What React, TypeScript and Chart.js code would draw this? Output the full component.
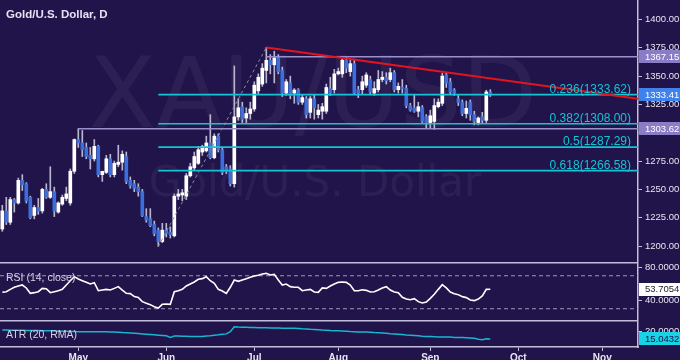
import React, { useEffect, useRef } from 'react';
import { Chart, registerables } from 'chart.js';

Chart.register(...registerables);

// ---------------- data ----------------
const opens = [
  1215, 1231, 1221, 1241, 1238, 1258, 1255, 1243, 1227, 1234,
  1231, 1250, 1243, 1248, 1230, 1237, 1242, 1238, 1266, 1294,
  1291, 1287, 1280, 1277, 1288, 1263, 1265, 1277, 1263, 1272,
  1274, 1279, 1258, 1255, 1252, 1248, 1226, 1224, 1219, 1214,
  1204, 1214, 1212, 1209, 1244, 1245, 1244, 1262, 1269, 1273,
  1283, 1284, 1291, 1278, 1297, 1285, 1270, 1268, 1255, 1314,
  1323, 1313, 1317, 1321, 1337, 1343, 1355, 1364, 1360, 1366,
  1355, 1335, 1344, 1335, 1338, 1327, 1330, 1318, 1330, 1316,
  1319, 1319, 1339, 1338, 1352, 1352, 1364, 1354, 1361, 1338,
  1338, 1342, 1347, 1335, 1338, 1347, 1349, 1347, 1353, 1338,
  1340, 1339, 1324, 1322, 1319, 1322, 1314, 1309, 1310, 1323,
  1326, 1351, 1345, 1337.7, 1330, 1327, 1317, 1327, 1316, 1309,
  1314, 1311, 1336,
];
const highs = [
  1236, 1243, 1243, 1242, 1260, 1263, 1256, 1244, 1236, 1242,
  1251, 1255, 1270, 1252, 1239, 1245, 1252, 1268, 1294.5, 1303.62,
  1302, 1291, 1287, 1294, 1289, 1266, 1280, 1281, 1275, 1289,
  1284, 1283, 1261, 1258, 1255, 1250, 1233, 1233, 1222, 1216,
  1220, 1220, 1217, 1246, 1250, 1250, 1264, 1273, 1283, 1288,
  1289, 1297, 1316, 1299, 1299, 1287, 1272, 1271, 1359, 1330,
  1327, 1322, 1327, 1345, 1352, 1361, 1375.3, 1369, 1372, 1369,
  1358, 1347, 1350, 1339, 1339, 1333, 1332, 1332, 1333, 1325,
  1326, 1343, 1349, 1356, 1357, 1366, 1367.15, 1364, 1365, 1341,
  1350, 1353, 1350, 1345, 1355, 1354, 1353, 1357, 1355, 1344,
  1347, 1342, 1326, 1334, 1327, 1324, 1316, 1320, 1330, 1330,
  1352.5, 1353, 1348, 1339, 1333, 1329, 1328, 1329, 1319, 1314,
  1318, 1337.6, 1338,
];
const lows = [
  1213, 1219, 1219, 1230, 1237, 1249, 1238, 1224, 1224, 1228,
  1229, 1242, 1242, 1226, 1229, 1236, 1240, 1236, 1264, 1287,
  1279, 1277, 1268, 1275, 1261, 1257, 1264, 1261, 1261, 1270,
  1267, 1255, 1251, 1248, 1244, 1226, 1221, 1217, 1209, 1199.7,
  1203, 1208, 1207, 1208, 1241, 1240, 1241, 1261, 1267, 1272,
  1280, 1283, 1277, 1277, 1283, 1263, 1264, 1253, 1252, 1311,
  1309, 1309, 1312, 1319, 1334, 1341, 1344, 1352, 1344, 1352,
  1332, 1333, 1330, 1326, 1325, 1325, 1313, 1313, 1312, 1313,
  1312, 1317, 1333, 1335, 1351, 1349, 1353, 1350, 1334, 1331,
  1334, 1340, 1334, 1333, 1336, 1345, 1343, 1345, 1336, 1335,
  1335, 1322, 1319, 1318, 1314, 1308, 1304, 1304, 1303, 1322,
  1324, 1340, 1334, 1333, 1324, 1315, 1313, 1311, 1307, 1307,
  1308, 1309, 1332,
];
const closes = [
  1231, 1221, 1241, 1238, 1258, 1254, 1240, 1225, 1234, 1231,
  1250, 1243, 1248, 1231, 1238, 1243, 1246, 1266, 1294, 1291,
  1285, 1279, 1277, 1288, 1263, 1266, 1277, 1263, 1273, 1274,
  1281, 1257, 1253, 1251, 1248, 1227, 1223, 1218, 1211, 1204,
  1214, 1211, 1210, 1244, 1246, 1247, 1262, 1270, 1279, 1285,
  1288, 1291, 1278, 1297, 1285, 1265, 1266, 1255, 1314, 1322,
  1312, 1317, 1321, 1342, 1349, 1357, 1364, 1360, 1366, 1354,
  1335, 1345, 1333, 1337.7, 1327, 1331, 1316, 1330, 1322, 1320,
  1323, 1340, 1335, 1352, 1354, 1364, 1357, 1361, 1335, 1335,
  1345, 1351, 1336, 1339, 1347, 1349, 1346, 1353, 1338, 1341,
  1339, 1324, 1320, 1319, 1323, 1310, 1309, 1315, 1324, 1327,
  1350, 1344, 1336, 1335, 1327, 1317, 1321.6, 1316, 1310, 1313,
  1311, 1336, 1333.41,
];
const rsiValues = [
  49.9, 50.7, 53.5, 56, 57.6, 58.8, 55.2, 48.7, 49.5, 50.7,
  54.7, 54.3, 49.5, 50.7, 51.9, 53.5, 58.8, 64, 68.9, 66,
  64, 62, 60, 61.6, 51.9, 52.7, 53.5, 52.7, 54.7, 56.8,
  52.7, 48.7, 48.3, 44.7, 43.8, 38.6, 36.6, 35, 32.5, 30.9,
  35.4, 35.8, 35.4, 50.7, 51.9, 53.5, 57.6, 60, 62.4, 65.7,
  66.5, 68.9, 64, 60.8, 53.5, 51.5, 48.7, 56, 64.8, 63.2,
  64.8, 66.5, 68.1, 69.7, 70.5, 72.1, 72.9, 70.9, 71.7, 64.8,
  58.8, 60, 56.8, 56, 56, 51.9, 52.7, 53.5, 50.3, 49.9,
  55.2, 54.7, 57.6, 60, 62, 62.4, 62, 58.8, 51.9, 51.9,
  53.1, 52.3, 50.3, 50.7, 52.7, 55.2, 56.8, 52.7, 50.3, 49.5,
  43.8, 41.8, 41, 42.2, 38.6, 37, 38.2, 42.6, 47.5, 53.5,
  59.2, 55.2, 50.3, 48.3, 47.1, 44.7, 43.5, 40.6, 39.8, 41.8,
  45.5, 53.5, 53.7054,
];
const atrValues = [
  20.6, 20.6, 20.5, 20.5, 20.4, 20.4, 20.3, 20.3, 20.3,
  20.3, 20.2, 20.2, 20.1, 20.0, 19.9, 19.9, 19.8,
  19.7, 19.7, 19.6, 19.6, 19.6, 19.6, 19.6, 19.6,
  19.6, 19.5, 19.4, 19.3, 19.2, 19.0, 18.9, 18.8, 18.6,
  18.4, 18.2, 18.0, 17.8, 17.6, 17.4, 17.2, 17.0,
  16.0, 16.9,
  16.8, 16.7, 16.7, 16.6, 16.6, 16.5, 16.5,
  16.9, 17.1, 17.4, 17.6, 17.9, 18.2,
  19.6, 22.7,
  22.5, 22.4, 22.3, 22.2, 22.2, 22.1, 22.0, 22.0,
  21.9, 21.8, 21.8, 21.7, 21.7, 21.7, 21.7, 21.6,
  21.4, 21.3, 21.1, 21.0, 20.8, 20.6, 20.5, 20.3, 20.2, 20.1,
  20.0, 19.9, 19.7, 19.6, 19.4, 19.4, 19.3, 19.2,
  19.0, 18.9, 18.8, 18.6, 18.3, 18.2, 18.0, 17.8,
  17.5, 17.4, 17.2, 17.0, 16.7, 16.6, 16.5, 16.4,
  16.3, 16.3, 16.2, 16.2, 16.0, 16.0, 15.9, 15.8, 15.6, 15.4,
  14.8, 14.6, 15.2, 15.0432,
];

const monthTicks = [19, 41, 63, 84, 107, 129, 150];
const monthLabels = ['May', 'Jun', 'Jul', 'Aug', 'Sep', 'Oct', 'Nov'];
const priceTicks = [1200, 1225, 1250, 1275, 1300, 1325, 1350, 1375, 1400];
const rsiTicks = [80, 40];
const rsiBands = [70, 30];
const atrTicks = [20];

const fibRatios = [0.236, 0.382, 0.5, 0.618];
const fibLevels = [1333.62, 1308.0, 1287.29, 1266.58];
const swingLowIdx = 39;
const swingLow = 1199.7;
const swingHighIdx = 66;
const swingHigh = 1375.3;
const trendEndPrice = 1330.0;
const resistanceLevel = 1367.15;
const resistanceStartIdx = 66;
const supportLevel = 1303.62;
const supportStartIdx = 19;
const lastPrice = 1333.41;
const lastRsi = 53.7054;
const lastAtr = 15.0432;

const TITLE = 'Gold/U.S. Dollar, D';
const WM_SYMBOL = 'XAU/USD';
const WM_NAME = 'Gold/U.S. Dollar';
const RSI_LABEL = 'RSI (14, close)';
const ATR_LABEL = 'ATR (20, RMA)';

// ---------------- style ----------------
const BG = '#21144a';
const AXIS = '#c2bedb';
const TICK_TXT = '#e6e6f2';
const UP = '#ffffff';
const DOWN = '#3b6fdc';
const WICK = '#b9b6cf';
const CYAN = '#14c4d4';
const LAV_LINE = '#9a90cc';
const LAV_BOX = '#8b7cc6';
const FONT = '"Liberation Sans", Arial, sans-serif';

const X_MIN = -0.575;
const X_MAX = 158.925;

Chart.defaults.font.family = FONT;

const idx = closes.map((_, i) => i);

const bgPlugin = {
  id: 'bgfill',
  beforeDraw(chart: any) {
    const ctx = chart.ctx;
    ctx.save();
    ctx.fillStyle = BG;
    ctx.fillRect(0, 0, chart.width, chart.height);
    ctx.restore();
  },
};

function drawBox(chart: any, scaleId: string, value: number, text: string, fill: string, color: string) {
  const ctx = chart.ctx;
  const y = chart.scales[scaleId].getPixelForValue(value);
  const x0 = chart.chartArea.right + 1;
  ctx.save();
  ctx.fillStyle = fill;
  ctx.fillRect(x0, Math.round(y - 6.5), chart.width - x0, 13);
  ctx.fillStyle = color;
  ctx.font = '9.5px ' + FONT;
  ctx.textAlign = 'left';
  ctx.textBaseline = 'middle';
  ctx.fillText(text, x0 + 6, Math.round(y) + 0.5);
  ctx.restore();
}

function yAxis(min: number, max: number, ticks: number[], digits: number) {
  return {
    type: 'linear',
    position: 'right',
    min,
    max,
    afterBuildTicks: (s: any) => {
      s.ticks = ticks.map((v) => ({ value: v }));
    },
    afterFit: (s: any) => {
      s.width = 42;
      s.paddingTop = 0;
      s.paddingBottom = 0;
    },
    ticks: {
      color: TICK_TXT,
      padding: 3,
      font: { size: 9.5, family: FONT },
      callback: (v: any) => Number(v).toFixed(digits),
    },
    grid: { drawOnChartArea: false, drawTicks: true, tickLength: 4, color: AXIS },
    border: { display: true, color: AXIS, width: 1.5 },
  };
}

const hiddenX = {
  type: 'linear',
  min: X_MIN,
  max: X_MAX,
  offset: false,
  display: false,
};

function hLine(level: number, startIdx: number, color: string, width: number, order: number, dash: number[] = []) {
  return {
    type: 'line',
    data: [
      { x: startIdx, y: level },
      { x: X_MAX, y: level },
    ],
    borderColor: color,
    borderWidth: width,
    borderDash: dash,
    pointRadius: 0,
    fill: false,
    order,
  };
}

function mainConfig(): any {
  const overlay = {
    id: 'mainOverlay',
    beforeDatasetsDraw(chart: any) {
      const { ctx, chartArea } = chart;
      ctx.save();
      ctx.beginPath();
      ctx.rect(chartArea.left, chartArea.top, chartArea.width, chartArea.height);
      ctx.clip();
      ctx.fillStyle = 'rgba(255,255,255,0.05)';
      ctx.textAlign = 'center';
      ctx.textBaseline = 'alphabetic';
      ctx.font = '98px "DejaVu Sans"';
      ctx.fillText(WM_SYMBOL, 313, 127);
      ctx.font = '42px "DejaVu Sans"';
      ctx.fillText(WM_NAME, 315, 196);
      ctx.restore();
    },
    afterDraw(chart: any) {
      const { ctx, scales } = chart;
      ctx.save();
      ctx.fillStyle = '#e4e2f2';
      ctx.font = 'bold 11.5px ' + FONT;
      ctx.textAlign = 'left';
      ctx.textBaseline = 'alphabetic';
      ctx.fillText(TITLE, 6, 18);

      ctx.fillStyle = CYAN;
      ctx.font = '12px ' + FONT;
      ctx.textAlign = 'right';
      fibLevels.forEach((lv, k) => {
        const y = scales.y.getPixelForValue(lv);
        ctx.fillText(fibRatios[k] + '(' + lv.toFixed(2) + ')', 631, y - 2);
      });
      ctx.restore();

      drawBox(chart, 'y', resistanceLevel, resistanceLevel.toFixed(2), LAV_BOX, '#ffffff');
      drawBox(chart, 'y', supportLevel, supportLevel.toFixed(2), LAV_BOX, '#ffffff');
      drawBox(chart, 'y', lastPrice, lastPrice.toFixed(2), '#3f82ec', '#ffffff');
    },
  };

  return {
    type: 'bar',
    data: {
      datasets: [
        {
          type: 'line',
          data: [
            { x: swingHighIdx, y: swingHigh },
            { x: X_MAX, y: trendEndPrice },
          ],
          borderColor: '#e3141e',
          borderWidth: 2,
          pointRadius: 0,
          fill: false,
          order: 0,
        },
        {
          type: 'line',
          data: [
            { x: swingLowIdx, y: swingLow },
            { x: swingHighIdx, y: swingHigh },
          ],
          borderColor: '#8e8aa6',
          borderWidth: 1,
          borderDash: [3, 3],
          pointRadius: 0,
          fill: false,
          order: 1,
        },
        ...fibLevels.map((lv) => hLine(lv, swingLowIdx, CYAN, 1.6, 1)),
        hLine(resistanceLevel, resistanceStartIdx, LAV_LINE, 1.5, 1),
        hLine(supportLevel, supportStartIdx, LAV_LINE, 1.5, 1),
        {
          type: 'bar',
          data: idx.map((i) => ({ x: i, y: [opens[i], closes[i]] })),
          backgroundColor: idx.map((i) => (closes[i] >= opens[i] ? UP : DOWN)),
          borderWidth: 0,
          barThickness: 3,
          minBarLength: 1,
          grouped: false,
          order: 2,
        },
        {
          type: 'bar',
          data: idx.map((i) => ({ x: i, y: [lows[i], highs[i]] })),
          backgroundColor: WICK,
          borderWidth: 0,
          barThickness: 1,
          grouped: false,
          order: 3,
        },
      ],
    },
    options: {
      animation: false,
      responsive: false,
      maintainAspectRatio: false,
      devicePixelRatio: 1,
      events: [],
      layout: { padding: 0 },
      plugins: { legend: { display: false }, tooltip: { enabled: false }, title: { display: false } },
      scales: {
        x: hiddenX,
        y: yAxis(1185.9, 1417.2, priceTicks, 2),
      },
    },
    plugins: [bgPlugin, overlay],
  };
}

function separator(label: string, labelY: number) {
  return {
    id: 'sep' + label,
    afterDraw(chart: any) {
      const { ctx, chartArea } = chart;
      ctx.save();
      ctx.strokeStyle = AXIS;
      ctx.lineWidth = 1.5;
      ctx.beginPath();
      ctx.moveTo(0, 0.75);
      ctx.lineTo(chartArea.right, 0.75);
      ctx.stroke();
      ctx.fillStyle = '#d4d2e4';
      ctx.font = '10.5px ' + FONT;
      ctx.textAlign = 'left';
      ctx.textBaseline = 'middle';
      ctx.fillText(label, 6, labelY);
      ctx.restore();
    },
  };
}

function rsiConfig(): any {
  const boxPlugin = {
    id: 'rsiBox',
    afterDraw(chart: any) {
      drawBox(chart, 'y', lastRsi, lastRsi.toFixed(4), '#ffffff', '#1d1d2c');
    },
  };
  return {
    type: 'line',
    data: {
      datasets: [
        {
          data: idx.map((i) => ({ x: i, y: rsiValues[i] })),
          borderColor: '#ffffff',
          borderWidth: 1.6,
          pointRadius: 0,
          fill: false,
          order: 0,
        },
        ...rsiBands.map((b) => hLine(b, X_MIN, '#9d99b6', 1, 1, [4, 3])),
      ],
    },
    options: {
      animation: false,
      responsive: false,
      maintainAspectRatio: false,
      devicePixelRatio: 1,
      events: [],
      layout: { padding: 0 },
      plugins: { legend: { display: false }, tooltip: { enabled: false } },
      scales: {
        x: hiddenX,
        y: yAxis(16.36, 86.67, rsiTicks, 4),
      },
    },
    plugins: [bgPlugin, separator(RSI_LABEL, 16), boxPlugin],
  };
}

function atrConfig(): any {
  const boxPlugin = {
    id: 'atrBox',
    afterDraw(chart: any) {
      drawBox(chart, 'y', lastAtr, lastAtr.toFixed(4), '#19d2e6', '#151040');
    },
  };
  return {
    type: 'line',
    data: {
      datasets: [
        {
          data: idx.map((i) => ({ x: i, y: atrValues[i] })),
          borderColor: '#17b6cf',
          borderWidth: 1.5,
          pointRadius: 0,
          fill: false,
        },
      ],
    },
    options: {
      animation: false,
      responsive: false,
      maintainAspectRatio: false,
      devicePixelRatio: 1,
      events: [],
      layout: { padding: 0 },
      plugins: { legend: { display: false }, tooltip: { enabled: false } },
      scales: {
        x: {
          type: 'linear',
          min: X_MIN,
          max: X_MAX,
          offset: false,
          position: 'bottom',
          afterBuildTicks: (s: any) => {
            s.ticks = monthTicks.map((v) => ({ value: v }));
          },
          afterFit: (s: any) => {
            s.height = 13;
            s.paddingLeft = 0;
            s.paddingRight = 0;
          },
          ticks: {
            autoSkip: false,
            maxRotation: 0,
            minRotation: 0,
            padding: 1,
            color: TICK_TXT,
            font: { size: 10, weight: 'bold', family: FONT },
            callback: (v: any) => {
              const k = monthTicks.indexOf(Number(v));
              return k >= 0 ? monthLabels[k] : '';
            },
          },
          grid: { drawOnChartArea: false, drawTicks: true, tickLength: 4, color: AXIS },
          border: { display: true, color: AXIS, width: 1.5 },
        },
        y: yAxis(10, 26.875, atrTicks, 4),
      },
    },
    plugins: [bgPlugin, separator(ATR_LABEL, 15), boxPlugin],
  };
}

export default function App() {
  const mainRef = useRef<HTMLCanvasElement>(null);
  const rsiRef = useRef<HTMLCanvasElement>(null);
  const atrRef = useRef<HTMLCanvasElement>(null);

  useEffect(() => {
    const charts: Chart[] = [];
    if (mainRef.current) charts.push(new Chart(mainRef.current, mainConfig()));
    if (rsiRef.current) charts.push(new Chart(rsiRef.current, rsiConfig()));
    if (atrRef.current) charts.push(new Chart(atrRef.current, atrConfig()));
    return () => charts.forEach((c) => c.destroy());
  }, []);

  const cv = (top: number, h: number): React.CSSProperties => ({
    position: 'absolute',
    left: 0,
    top,
    width: 680,
    height: h,
    display: 'block',
  });

  return (
    <div style={{ position: 'absolute', left: 0, top: 0, width: 680, height: 360, background: BG, overflow: 'hidden' }}>
      <canvas ref={mainRef} width={680} height={262} style={cv(0, 262)} />
      <canvas ref={rsiRef} width={680} height={58} style={cv(262, 58)} />
      <canvas ref={atrRef} width={680} height={40} style={cv(320, 40)} />
    </div>
  );
}
